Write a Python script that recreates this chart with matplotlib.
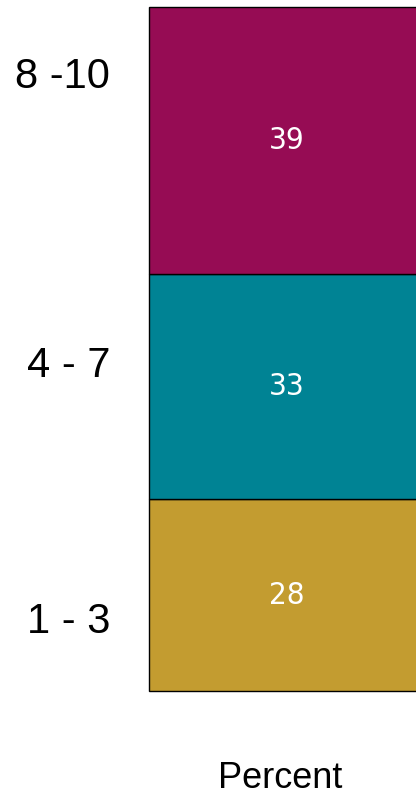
import matplotlib
matplotlib.use("Agg")
import matplotlib.pyplot as plt

# Stacked shares (percent), bottom to top
categories = ["1 - 3", "4 - 7", "8 -10"]
values = [28, 33, 39]
colors = ["#C39C30", "#008394", "#960C54"]
# where the category labels sit on the percent axis
label_positions = [10.8, 48.1, 90.4]

fig = plt.figure(figsize=(4.16, 7.97), dpi=100)
ax = fig.add_axes([149 / 416, 1 - 691 / 797, 276 / 416, 684 / 797])

bottom = 0
for val, col in zip(values, colors):
    ax.bar(0, val, bottom=bottom, width=1.0, color=col, edgecolor="black",
           linewidth=1.0, clip_on=False)
    ax.text(0, bottom + val / 2, str(val), ha="center", va="center", color="white",
            fontsize=22.5, family="DejaVu Sans", fontstretch="condensed")
    bottom += val

ax.set_xlim(-0.5, 0.5)
ax.set_ylim(0, 100)
ax.set_xticks([])
ax.set_yticks(label_positions)
ax.set_yticklabels(categories, fontsize=30, family="Liberation Sans")
ax.tick_params(axis="y", length=0, pad=28)
for s in ax.spines.values():
    s.set_visible(False)

fig.text(280 / 416, 1 - 779 / 797, "Percent", ha="center", va="center",
         fontsize=26, family="Liberation Sans")

fig.savefig("out.png", dpi=100)
